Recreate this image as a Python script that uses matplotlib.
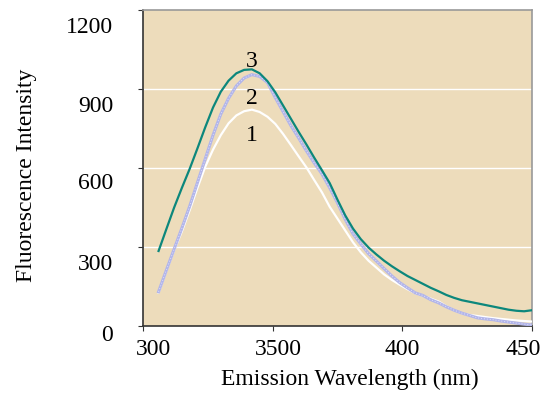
import matplotlib.pyplot as plt
from matplotlib.transforms import ScaledTranslation

plt.rcParams['font.family'] = ['Liberation Serif', 'DejaVu Serif']

# emission wavelength (nm)
wl = [306, 309, 312, 315, 318, 321, 324, 327, 330, 333, 336, 339, 342, 345, 348, 351, 354,
      357, 360, 363, 366, 369, 372, 375, 378, 381, 384, 387, 390, 393, 396, 399, 402, 405,
      408, 411, 414, 417, 420, 423, 426, 429, 432, 435, 438, 441, 444, 447, 450]

# curve 1 (white)
curve1 = [127, 210, 288, 360, 440, 525, 605, 670, 725, 770, 800, 816, 822, 813, 795, 768, 730,
          688, 645, 603, 555, 508, 453, 408, 363, 318, 280, 248, 222, 196, 175, 157, 140, 125,
          115, 104, 93, 75, 60, 48, 42, 38, 34, 30, 27, 24, 21, 19, 17]
# curve 2 (lavender)
curve2 = [130, 212, 292, 372, 455, 545, 635, 725, 805, 865, 912, 942, 955, 948, 925, 868, 815,
          762, 715, 666, 620, 578, 525, 468, 405, 350, 312, 275, 247, 218, 190, 165, 145, 126,
          116, 100, 88, 73, 60, 49, 40, 31, 27, 24, 19, 15, 11, 7, 4]
# curve 3 (teal)
curve3 = [285, 368, 450, 525, 597, 675, 755, 830, 890, 932, 960, 973, 975, 960, 930, 888, 838,
          788, 738, 690, 640, 592, 543, 480, 420, 370, 330, 298, 272, 248, 227, 208, 190, 175,
          160, 145, 132, 118, 107, 98, 92, 86, 80, 74, 68, 62, 58, 56, 60]

xticks = [300, 350, 400, 450]
xticklabels = ['300', '3500', '400', '450']
yticks = [0, 300, 600, 900, 1200]

fig = plt.figure(figsize=(5.45, 4.05), dpi=100)
ax = fig.add_axes([0.2624, 0.195, 0.7136, 0.780])
ax.set_facecolor('#eddcbb')

for y in [300, 600, 900]:
    ax.axhline(y, color='white', lw=1.0, zorder=1)

ax.plot(wl, curve1, color='white', lw=1.6, zorder=3)
ax.plot(wl, curve2, color='#b2b5ea', lw=2.2, zorder=4)
ax.plot(wl, curve2, color='white', lw=0.7, ls=(0, (1, 2)), alpha=0.6, zorder=4)
ax.plot(wl, curve3, color='#0c877c', lw=1.6, zorder=5)

ax.text(342, 1003, '3', fontsize=17, ha='center', va='center')
ax.text(342, 866, '2', fontsize=17, ha='center', va='center')
ax.text(342, 725, '1', fontsize=17, ha='center', va='center')

ax.set_xlim(300, 450)
ax.set_ylim(0, 1200)
ax.set_xticks(xticks)
ax.set_xticklabels(xticklabels)
ax.set_yticks(yticks)
ax.tick_params(axis='both', labelsize=17, direction='out', length=3.5, color='#333333')
ax.tick_params(axis='y', pad=18)
ax.tick_params(axis='x', pad=6)

# nudge tick labels the way the original sits them
for lab, dx in zip(ax.get_xticklabels(), [10, 6, 0, -9]):
    lab.set_transform(lab.get_transform() + ScaledTranslation(dx / 100, 0, fig.dpi_scale_trans))
for lab, dy in zip(ax.get_yticklabels(), [7, 15, 13, 15, 15]):
    lab.set_transform(lab.get_transform() + ScaledTranslation(0, -dy / 100, fig.dpi_scale_trans))

for s in ['left', 'bottom']:
    ax.spines[s].set_color('#333333')
    ax.spines[s].set_linewidth(1.2)
for s in ['top', 'right']:
    ax.spines[s].set_color('#999999')
    ax.spines[s].set_linewidth(1.2)

ax.set_xlabel('Emission Wavelength (nm)', fontsize=17, labelpad=6)
ax.xaxis.label.set_x(0.532)
ax.set_ylabel('Fluorescence Intensity', fontsize=17, labelpad=21)
ax.yaxis.label.set_y(0.478)

fig.savefig('out.png', dpi=100)
